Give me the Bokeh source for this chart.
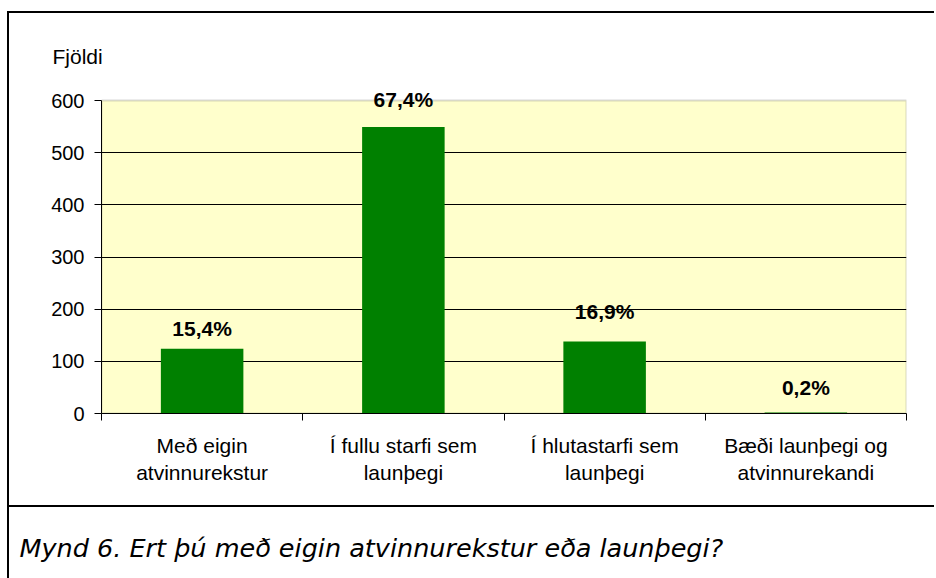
from bokeh.plotting import figure
from bokeh.layouts import column
from bokeh.models import (ColumnDataSource, LabelSet, FixedTicker, Range1d,
                          BoxAnnotation)
from bokeh.core.properties import value
from bokeh.embed import file_html
from bokeh.resources import INLINE

categories = ["Með eigin\natvinnurekstur", "Í fullu starfi sem\nlaunþegi",
              "Í hlutastarfi sem\nlaunþegi", "Bæði launþegi og\natvinnurekandi"]
counts = [124, 549, 138, 2]
percent_labels = ["15,4%", "67,4%", "16,9%", "0,2%"]
y_ticks = [0, 100, 200, 300, 400, 500, 600]
y_title = "Fjöldi"
caption = "Mynd 6. Ert þú með eigin atvinnurekstur eða launþegi?"

# styling: lift of each percentage label above its bar (px)
label_lift = [20, 28, 30, 25]

FONT = "Liberation Sans"
FRAME_LINE = "2px solid black"

# chart canvas (page offset 9, 13 after margins and borders)
CW, CH = 927, 496
# value-axis area from canvas y=87 (600) to y=400 (0); frame extended up to 57
AREA_TOP, FRAME_TOP, FRAME_BOTTOM = 87, 57, 400
y_max = y_ticks[-1]
y_end = y_max * (FRAME_BOTTOM - FRAME_TOP) / (FRAME_BOTTOM - AREA_TOP)

xs = [i + 0.5 for i in range(len(categories))]
src = ColumnDataSource(dict(x=xs, top=counts, lab=percent_labels, lift=label_lift))

p = figure(width=CW, height=CH, output_backend="svg", toolbar_location=None,
           x_range=Range1d(0, len(categories)), y_range=Range1d(0, y_end),
           min_border_left=92, min_border_right=30, min_border_top=FRAME_TOP,
           min_border_bottom=CH - FRAME_BOTTOM, margin=(11, 0, 0, 7))
p.styles = {"border-left": FRAME_LINE, "border-top": FRAME_LINE,
            "border-bottom": FRAME_LINE}
p.background_fill_color = None
p.border_fill_color = "white"
p.outline_line_color = None

# plot area (yellow with grey border)
p.add_layout(BoxAnnotation(left=0, right=len(categories), bottom=0, top=y_max,
                           fill_color="#FFFFCC", fill_alpha=1,
                           line_color="#808080", line_width=2, level="image"))

p.vbar(x="x", top="top", width=0.41, bottom=0, source=src,
       fill_color="#008000", line_color=None)

p.add_layout(LabelSet(x="x", y="top", text="lab", source=src, y_offset="lift",
                      text_align="center", text_baseline="middle",
                      text_font=value(FONT), text_font_style="bold",
                      text_font_size="21px", text_color="black"))

# grid
p.xgrid.visible = False
p.ygrid.grid_line_color = "black"
p.ygrid.grid_line_width = 1
p.ygrid.ticker = FixedTicker(ticks=y_ticks[:-1])

# y axis
ya = p.yaxis[0]
ya.ticker = FixedTicker(ticks=y_ticks)
ya.bounds = (0, y_max)
ya.major_tick_out = 7
ya.major_tick_in = 0
ya.minor_tick_line_color = None
ya.major_label_standoff = 10
ya.major_label_text_font = FONT
ya.major_label_text_font_size = "20px"
ya.major_label_text_color = "black"
ya.axis_line_color = "black"

# x axis: ticks between categories, labels at category centres
xa = p.xaxis[0]
xa.ticker = FixedTicker(ticks=xs, minor_ticks=list(range(len(categories) + 1)))
xa.major_label_overrides = {x: c for x, c in zip(xs, categories)}
xa.major_tick_out = 0
xa.major_tick_in = 0
xa.minor_tick_out = 7
xa.minor_tick_in = 0
xa.minor_tick_line_color = "black"
xa.major_label_standoff = 13
xa.major_label_text_font = FONT
xa.major_label_text_font_size = "21px"
xa.major_label_text_color = "black"
xa.axis_line_color = "black"

# y title (as plot title, top-left)
p.title.text = y_title
p.title.align = "left"
p.title.offset = -49
p.title.standoff = 5
p.title.text_font = FONT
p.title.text_font_size = "21px"
p.title.text_font_style = "normal"
p.title.text_color = "black"

# caption panel (caption drawn as its title)
c = figure(width=CW, height=71, output_backend="svg", toolbar_location=None,
           x_axis_location=None, y_axis_location=None,
           x_range=Range1d(0, 1), y_range=Range1d(0, 1),
           min_border=0, min_border_top=57, margin=(0, 0, 0, 7))
c.styles = {"border-left": FRAME_LINE}
c.outline_line_color = None
c.background_fill_color = "white"
c.border_fill_color = "white"
c.grid.visible = False
c.title.text = caption
c.title.align = "left"
c.title.offset = -82
c.title.standoff = 4
c.title.text_font = "DejaVu Sans"
c.title.text_font_style = "italic"
c.title.text_font_size = "25.5px"
c.title.text_color = "black"

layout = column(p, c, spacing=0)
open("out.html", "w").write(file_html(layout, INLINE))
